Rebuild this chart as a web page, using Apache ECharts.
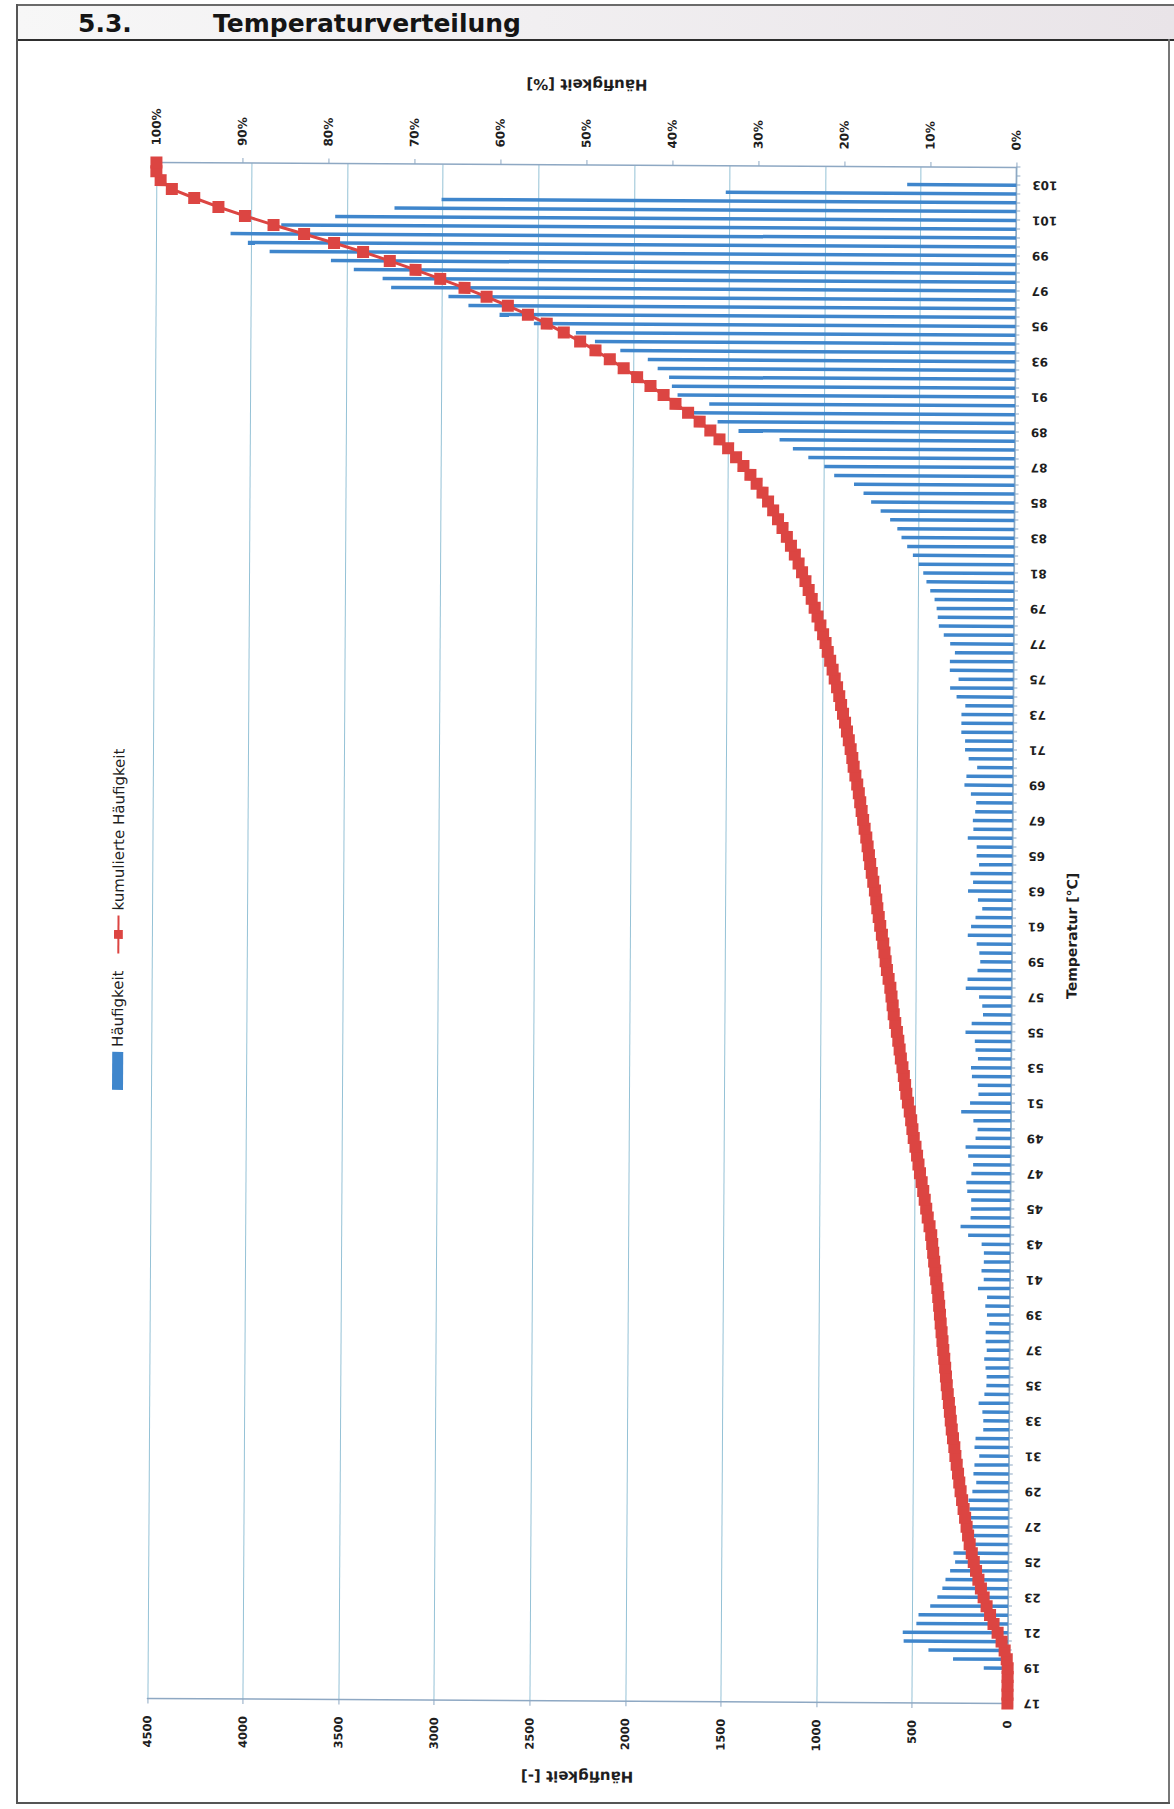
<!DOCTYPE html>
<html>
<head>
<meta charset="utf-8">
<title>5.3. Temperaturverteilung</title>
<script src="https://cdn.jsdelivr.net/npm/echarts@6/dist/echarts.min.js"></script>
<style>
  html, body { margin: 0; padding: 0; background: #ffffff; }
  body { position: relative; width: 1174px; height: 1809px; overflow: hidden; font-family: "DejaVu Sans", Verdana, sans-serif; }
  .header {
    position: absolute; left: 16px; top: 4px; width: 1158px; height: 33px;
    border-top: 2px solid #6a6a6a; border-bottom: 2px solid #2e2e2e;
    background: linear-gradient(to right, #f7f7f7 0%, #f1eff1 45%, #e9e4e8 100%);
  }
  .header span { position: absolute; top: 3px; font-weight: bold; font-size: 25px; color: #151515; line-height: 30px; }
  .frame-left { position: absolute; left: 16px; top: 4px; width: 2px; height: 1800px; background: #555; }
  .frame-right { position: absolute; left: 1168px; top: 39px; width: 2px; height: 1765px; background: #777; }
  .frame-bottom { position: absolute; left: 16px; top: 1802px; width: 1154px; height: 2px; background: #555; }
  #chart {
    position: absolute; left: -281px; top: 357px; width: 1740px; height: 1130px;
    transform: rotate(-89.665deg); transform-origin: 50% 50%;
  }
</style>
</head>
<body>
<div class="header">
  <span style="left:62px">5.3.</span>
  <span style="left:197px">Temperaturverteilung</span>
</div>
<div class="frame-left"></div>
<div class="frame-right"></div>
<div class="frame-bottom"></div>
<div id="chart"></div>
<script>
// Temperature classes in 0.5 °C steps
const temperatures = [17,17.5,18,18.5,19,19.5,20,20.5,21,21.5,22,22.5,23,23.5,24,24.5,25,25.5,26,26.5,27,27.5,28,28.5,29,29.5,30,30.5,31,31.5,32,32.5,33,33.5,34,34.5,35,35.5,36,36.5,37,37.5,38,38.5,39,39.5,40,40.5,41,41.5,42,42.5,43,43.5,44,44.5,45,45.5,46,46.5,47,47.5,48,48.5,49,49.5,50,50.5,51,51.5,52,52.5,53,53.5,54,54.5,55,55.5,56,56.5,57,57.5,58,58.5,59,59.5,60,60.5,61,61.5,62,62.5,63,63.5,64,64.5,65,65.5,66,66.5,67,67.5,68,68.5,69,69.5,70,70.5,71,71.5,72,72.5,73,73.5,74,74.5,75,75.5,76,76.5,77,77.5,78,78.5,79,79.5,80,80.5,81,81.5,82,82.5,83,83.5,84,84.5,85,85.5,86,86.5,87,87.5,88,88.5,89,89.5,90,90.5,91,91.5,92,92.5,93,93.5,94,94.5,95,95.5,96,96.5,97,97.5,98,98.5,99,99.5,100,100.5,101,101.5,102,102.5,103,103.5,104];

// Häufigkeit [-] per temperature class
const haeufigkeit = [
  0,0,0,0,
  125,286,415,545,550,479,468,407,370,344,328,304,278,
  287,220,215,210,200,205,210,190,170,185,180,155,180,175,135,135,140,160,130,120,
  119,125,132,119,125,125,107,119,128,119,167,137,149,137,137,149,220,260,208,205,
  205,226,231,205,196,222,236,184,174,196,260,214,170,174,205,210,174,187,191,240,
  208,149,153,170,240,231,179,165,170,184,231,214,191,156,179,231,205,219,174,187,
  187,234,205,208,196,191,219,253,243,187,232,251,251,271,271,271,251,297,331,287,
  333,333,307,332,366,392,398,404,415,438,458,475,500,530,560,590,612,650,700,750,
  790,840,944,996,1080,1161,1231,1446,1556,1700,1600,1766,1796,1811,1871,1923,2067,2200,2300,2520,
  2700,2863,2968,3268,3313,3464,3584,3905,4019,4110,3845,3563,3253,3007,1520,571,
  0,0
];

// kumulierte Häufigkeit [%]
const kumuliert = [
  0,0,0,0,
  0,0.11,0.36,0.72,1.19,1.67,2.08,2.49,2.84,3.16,3.46,3.74,4.01,
  4.25,4.50,4.69,4.87,5.05,5.23,5.41,5.59,5.75,5.90,6.06,6.22,6.35,6.51,6.66,6.78,6.89,7.01,7.15,7.27,
  7.37,7.47,7.58,7.70,7.80,7.91,8.02,8.11,8.21,8.32,8.43,8.57,8.69,8.82,8.94,9.06,9.18,9.38,9.60,9.78,
  9.96,10.14,10.33,10.53,10.71,10.88,11.07,11.28,11.44,11.59,11.76,11.98,12.17,12.32,12.47,12.64,12.83,12.98,13.14,13.31,
  13.51,13.69,13.82,13.96,14.10,14.31,14.51,14.67,14.81,14.96,15.12,15.32,15.50,15.67,15.80,15.96,16.16,16.34,16.53,16.68,
  16.84,17.00,17.20,17.38,17.56,17.73,17.90,18.09,18.31,18.52,18.68,18.88,19.10,19.32,19.55,19.79,20.02,20.24,20.50,20.78,
  21.03,21.32,21.61,21.87,22.16,22.48,22.82,23.16,23.51,23.87,24.25,24.65,25.06,25.50,25.96,26.44,26.95,27.48,28.05,28.65,
  29.30,29.99,30.72,31.54,32.40,33.33,34.34,35.41,36.66,38.01,39.48,40.87,42.40,43.96,45.53,47.15,48.82,50.61,52.52,54.51,
  56.70,59.04,61.52,64.09,66.92,69.80,72.80,75.91,79.29,82.78,86.34,89.67,92.76,95.58,98.19,99.50,
  100,100
];

// Axis ranges
const countAxis = { min: 0, max: 4500, interval: 500 };
const percentAxis = { min: 0, max: 100, interval: 10 };

const axisLineColor = '#8ea8c3';
const gridColor = '#95c2d6';
const textColor = '#1e1e1e';
const font = 'DejaVu Sans';

const chart = echarts.init(document.getElementById('chart'), null, { renderer: 'svg' });

chart.setOption({
  animation: false,
  textStyle: { fontFamily: font, color: textColor },
  legend: {
    data: [
      { name: 'Häufigkeit', icon: 'rect' },
      { name: 'kumulierte Häufigkeit' }
    ],
    top: 82,
    left: 'center',
    itemWidth: 38,
    itemHeight: 11,
    itemGap: 16,
    textStyle: { fontSize: 15, color: textColor, fontFamily: font }
  },
  grid: { left: 89, right: 113, top: 128, bottom: 142 },
  xAxis: {
    type: 'category',
    data: temperatures,
    boundaryGap: false,
    name: 'Temperatur [°C]',
    nameLocation: 'middle',
    nameGap: 53,
    nameTextStyle: { fontSize: 14, fontWeight: 'bold', color: textColor },
    axisLine: { show: true, lineStyle: { color: axisLineColor, width: 1.5 } },
    axisTick: { show: true, interval: 0, length: 4, lineStyle: { color: axisLineColor } },
    axisLabel: { interval: 3, rotate: 90, margin: 16, fontSize: 12, fontWeight: 'bold', color: textColor },
    splitLine: { show: false }
  },
  yAxis: [
    {
      type: 'value',
      min: countAxis.min,
      max: countAxis.max,
      interval: countAxis.interval,
      position: 'left',
      name: 'Häufigkeit [-]',
      nameLocation: 'middle',
      nameRotate: 90,
      nameGap: 68,
      nameTextStyle: { fontSize: 15, fontWeight: 'bold', color: textColor },
      axisLine: { show: true, lineStyle: { color: axisLineColor, width: 1.5 } },
      axisTick: { show: true, length: 5, lineStyle: { color: axisLineColor } },
      axisLabel: { margin: 17, fontSize: 11.5, fontWeight: 'bold', color: textColor, formatter: function (v) { return String(v); } },
      splitLine: { show: true, lineStyle: { color: gridColor, width: 1 } }
    },
    {
      type: 'value',
      min: percentAxis.min,
      max: percentAxis.max,
      interval: percentAxis.interval,
      position: 'right',
      name: 'Häufigkeit [%]',
      nameLocation: 'middle',
      nameRotate: 90,
      nameGap: 73,
      nameTextStyle: { fontSize: 15, fontWeight: 'bold', color: textColor },
      axisLine: { show: true, lineStyle: { color: axisLineColor, width: 1.5 } },
      axisTick: { show: true, length: 5, lineStyle: { color: axisLineColor } },
      axisLabel: { margin: 17, fontSize: 12, fontWeight: 'bold', color: textColor, formatter: '{value}%' },
      splitLine: { show: false }
    }
  ],
  series: [
    {
      name: 'Häufigkeit',
      type: 'bar',
      yAxisIndex: 0,
      data: haeufigkeit,
      barWidth: 3.5,
      itemStyle: { color: '#3f86cc' }
    },
    {
      name: 'kumulierte Häufigkeit',
      type: 'line',
      yAxisIndex: 1,
      data: kumuliert,
      symbol: 'rect',
      symbolSize: 12,
      showAllSymbol: true,
      lineStyle: { color: '#dc4542', width: 3 },
      itemStyle: { color: '#dc4542' },
      z: 3
    }
  ]
});
</script>
</body>
</html>
